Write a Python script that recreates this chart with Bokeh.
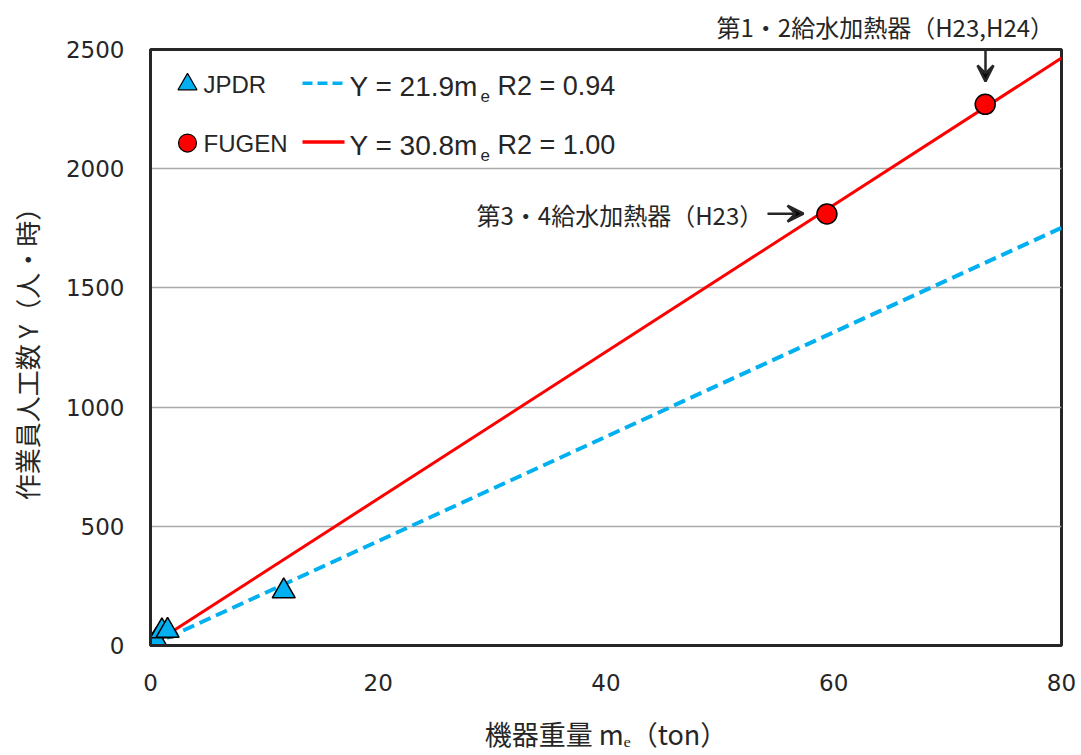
import math
from bokeh.plotting import figure
from bokeh.models import Label, Arrow, VeeHead, Range1d, FixedTicker, Title
from bokeh.embed import file_html
from bokeh.resources import INLINE

# ---------------- data ----------------
jpdr_mass = [0.3, 0.5, 1.0, 1.5, 11.7]
jpdr_hours = [5, 20, 60, 62, 228]
fugen_mass = [59.4, 73.3]
fugen_hours = [1810, 2270]
jpdr_slope = 21.9
fugen_slope = 30.8
fit_x = [0, 80]
x_ticks = [0, 20, 40, 60, 80]
y_ticks = [0, 500, 1000, 1500, 2000, 2500]
jpdr_eq = ("Y = 21.9m", "e", "R2 = 0.94")
fugen_eq = ("Y = 30.8m", "e", "R2 = 1.00")
note_top = "第1・2給水加熱器（H23,H24）"
note_mid = "第3・4給水加熱器（H23）"
y_label = "作業員人工数 Y（人・時）"
x_label = "機器重量 mₑ（ton）"

# ---------------- layout ----------------
W, H = 1081, 755
L, R, T, B = 150, 1061, 46, 645
X0, X1, Y0, Y1 = 0, 80, 0, 2500
TXT = "#262626"
BLUE = "#00B0F0"
RED = "#FF0000"
CJK = "Noto Sans CJK JP"
LAT = "Liberation Sans"


def dx(px):
    return X0 + (px - L) / (R - L) * (X1 - X0)


def dy(py):
    return Y0 + (B - py) / (B - T) * (Y1 - Y0)


p = figure(width=W, height=H, output_backend="svg", toolbar_location=None,
           x_range=Range1d(X0, X1), y_range=Range1d(Y0, Y1),
           min_border_left=L, min_border_right=W - R,
           min_border_top=T, min_border_bottom=H - B)
p.background_fill_color = "white"
p.border_fill_color = "white"
p.outline_line_color = TXT
p.outline_line_width = 3

# top annotation as a title above the frame
p.add_layout(Title(text=note_top, align="left", offset=566,
                   text_font=CJK, text_font_size="24px", text_color=TXT,
                   text_font_style="normal", standoff=12), "above")

for ax in (p.xaxis[0], p.yaxis[0]):
    ax.major_label_text_font = "DejaVu Sans"
    ax.major_label_text_font_size = "23px"
    ax.major_label_text_color = TXT
    ax.major_tick_line_color = None
    ax.minor_tick_line_color = None
    ax.major_tick_out = 0
    ax.major_tick_in = 0
    ax.axis_line_color = TXT
    ax.axis_line_width = 3
    ax.axis_label_text_font = CJK
    ax.axis_label_text_font_style = "normal"
    ax.axis_label_text_color = TXT
p.xaxis[0].ticker = FixedTicker(ticks=x_ticks)
p.yaxis[0].ticker = FixedTicker(ticks=y_ticks)
p.xaxis[0].major_label_standoff = 28
p.yaxis[0].major_label_standoff = 26
p.yaxis[0].axis_label = y_label
p.yaxis[0].axis_label_text_font_size = "26px"
p.yaxis[0].axis_label_standoff = 18
p.xaxis[0].axis_label = x_label
p.xaxis[0].axis_label_text_font_size = "27px"
p.xaxis[0].axis_label_standoff = 20

p.xgrid.grid_line_color = None
p.ygrid.ticker = FixedTicker(ticks=y_ticks)
p.ygrid.grid_line_color = "#ABABAB"
p.ygrid.grid_line_width = 1.5

# fit lines
p.line(fit_x, [jpdr_slope * v for v in fit_x], line_color=BLUE, line_width=4,
       line_dash="12 6")
p.line(fit_x, [fugen_slope * v for v in fit_x], line_color=RED, line_width=3)

# data points
p.scatter(jpdr_mass, jpdr_hours, marker="triangle", size=23,
          fill_color=BLUE, line_color="black", line_width=1.5)
p.scatter(fugen_mass, fugen_hours, marker="circle", size=20,
          fill_color=RED, line_color="black", line_width=1.5)

# ---------------- legend (custom) ----------------
rows = [(81, "triangle", 19, BLUE, "JPDR", jpdr_eq, BLUE, "10 5"),
        (140, "circle", 18, RED, "FUGEN", fugen_eq, RED, "solid")]
for py, mk, sz, col, name, eq, lcol, dash in rows:
    p.scatter([dx(187)], [dy(py)], marker=mk, size=sz, fill_color=col,
              line_color="black", line_width=1.2)
    p.add_layout(Label(x=dx(203), y=dy(py), text=name, text_font=LAT,
                       text_font_size="24px", text_color=TXT,
                       text_align="left", text_baseline="middle"))
    p.line([dx(302), dx(344)], [dy(py - 1), dy(py - 1)], line_color=lcol,
           line_width=3.5, line_dash=dash)
    p.add_layout(Label(x=dx(349), y=dy(py + 2), text=eq[0], text_font=LAT,
                       text_font_size="28px", text_color=TXT,
                       text_align="left", text_baseline="middle"))
    p.add_layout(Label(x=dx(480), y=dy(py + 12), text=eq[1], text_font=LAT,
                       text_font_size="17px", text_color=TXT,
                       text_align="left", text_baseline="middle"))
    p.add_layout(Label(x=dx(497), y=dy(py + 2), text=eq[2], text_font=LAT,
                       text_font_size="27px", text_color=TXT,
                       text_align="left", text_baseline="middle"))

# ---------------- annotations ----------------
p.add_layout(Arrow(end=VeeHead(size=16, line_width=2.5, line_color=TXT),
                   x_start=dx(985), y_start=dy(40), x_end=dx(985), y_end=dy(78),
                   line_width=2.5, line_color=TXT))
p.add_layout(Label(x=dx(476), y=dy(212), text=note_mid, text_font=CJK,
                   text_font_size="24px", text_color=TXT,
                   text_align="left", text_baseline="middle"))
p.add_layout(Arrow(end=VeeHead(size=16, line_width=2.5, line_color=TXT),
                   x_start=dx(767), y_start=dy(211), x_end=dx(803), y_end=dy(211),
                   line_width=2.5, line_color=TXT))

open("out.html", "w").write(file_html(p, INLINE))
